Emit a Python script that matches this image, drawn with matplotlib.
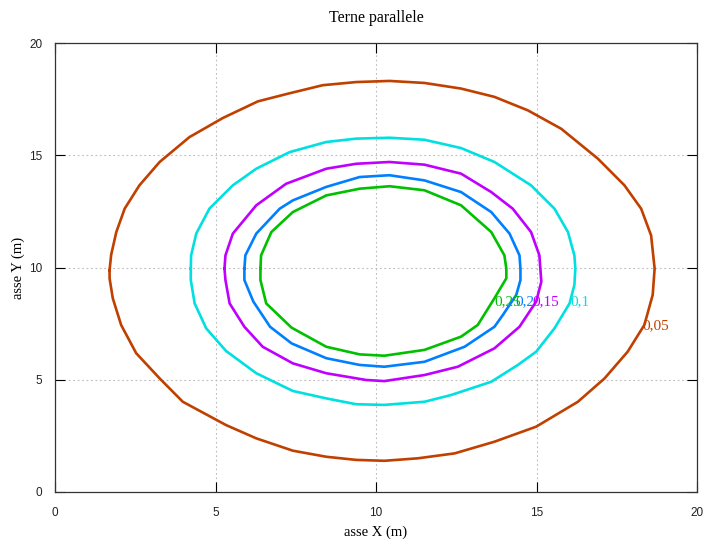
import matplotlib.pyplot as plt

# --- contour levels and their traced outlines (metres) ---
levels = ["0,05", "0,1", "0,15", "0,2", "0,25"]
colors = ["#c04000", "#00e0e0", "#c000ff", "#0080ff", "#00c000"]

x_005 = [1.70, 1.75, 1.91, 2.17, 2.63, 3.26, 4.19, 5.23, 6.32, 7.25, 8.34, 9.38, 10.42,
         11.51, 12.65, 13.69, 14.73, 15.77, 16.91, 17.74, 18.26, 18.57, 18.68,
         18.62, 18.36, 17.84, 17.12, 16.29, 14.99, 13.69, 12.45, 11.30, 10.26,
         9.38, 8.45, 7.41, 6.27, 5.33, 3.98, 3.26, 2.53, 2.06, 1.80, 1.70, 1.70]
y_005 = [9.88, 10.57, 11.58, 12.62, 13.66, 14.70, 15.81, 16.66, 17.40, 17.74, 18.12, 18.26, 18.31,
         18.22, 17.97, 17.60, 17.00, 16.18, 14.85, 13.66, 12.62, 11.43, 9.95,
         8.78, 7.44, 6.25, 5.06, 4.02, 2.91, 2.24, 1.72, 1.50, 1.39,
         1.43, 1.57, 1.84, 2.39, 2.98, 4.02, 5.06, 6.18, 7.44, 8.63, 9.52, 9.88]

x_01 = [4.23, 4.24, 4.40, 4.81, 5.54, 6.27, 7.31, 8.45, 9.38, 10.42,
        11.51, 12.65, 13.69, 14.83, 15.56, 15.98, 16.18, 16.21,
        16.18, 16.03, 15.56, 14.99, 14.42, 13.59, 12.34, 11.51, 10.26,
        9.38, 8.45, 7.41, 6.27, 5.33, 4.71, 4.35, 4.23, 4.23]
y_01 = [9.95, 10.54, 11.51, 12.62, 13.66, 14.40, 15.14, 15.59, 15.74, 15.78,
        15.69, 15.32, 14.70, 13.66, 12.62, 11.58, 10.54, 9.95,
        9.22, 8.40, 7.29, 6.25, 5.66, 4.91, 4.32, 4.02, 3.88,
        3.91, 4.17, 4.50, 5.29, 6.28, 7.29, 8.40, 9.44, 9.95]

x_015 = [5.28, 5.31, 5.54, 6.27, 7.20, 8.45, 9.38, 10.42,
         11.51, 12.65, 13.59, 14.26, 14.83, 15.09, 15.12,
         15.15, 14.99, 14.47, 13.69, 12.55, 11.51, 10.26,
         9.69, 8.45, 7.41, 6.47, 5.90, 5.44, 5.31, 5.28]
y_015 = [9.95, 10.54, 11.51, 12.77, 13.73, 14.40, 14.62, 14.70,
         14.58, 14.18, 13.36, 12.62, 11.58, 10.54, 9.95,
         9.37, 8.48, 7.36, 6.40, 5.58, 5.21, 4.94,
         4.99, 5.29, 5.73, 6.47, 7.36, 8.40, 9.44, 9.95]

x_02 = [5.90, 5.93, 6.27, 7.00, 7.41, 8.45, 9.49, 10.42,
        11.51, 12.65, 13.59, 14.16, 14.47, 14.50,
        14.50, 14.37, 13.95, 13.69, 12.76, 11.51, 10.26,
        9.49, 8.45, 7.37, 6.70, 6.18, 5.90, 5.90]
y_02 = [9.95, 10.54, 11.51, 12.62, 12.99, 13.59, 14.03, 14.11,
        13.88, 13.36, 12.47, 11.51, 10.54, 9.95,
        9.44, 8.78, 7.88, 7.36, 6.47, 5.80, 5.58,
        5.66, 5.96, 6.62, 7.36, 8.48, 9.44, 9.95]

x_025 = [6.40, 6.42, 6.74, 7.41, 8.45, 9.49, 10.42,
         11.51, 12.65, 13.59, 14.00, 14.06,
         14.06, 13.69, 13.17, 12.65, 11.51, 10.26,
         9.49, 8.45, 7.37, 6.58, 6.40, 6.40]
y_025 = [9.95, 10.54, 11.58, 12.47, 13.21, 13.51, 13.62,
         13.44, 12.77, 11.58, 10.54, 9.95,
         9.52, 8.63, 7.44, 6.92, 6.33, 6.07,
         6.13, 6.47, 7.32, 8.40, 9.44, 9.95]

# label anchor positions (left edge, vertical centre)
label_x = [18.30, 16.06, 14.88, 14.35, 13.69]
label_y = [7.39, 8.46, 8.46, 8.46, 8.46]

xs = [x_005, x_01, x_015, x_02, x_025]
ys = [y_005, y_01, y_015, y_02, y_025]

fig = plt.figure(figsize=(7.03, 5.39), dpi=100)
ax = fig.add_axes([55 / 703, 1 - 492 / 539, 642 / 703, 449 / 539])

for x, y, c in zip(xs, ys, colors):
    ax.plot(x, y, color=c, lw=1.9, solid_joinstyle="miter")

for lab, lx, ly, c in zip(levels, label_x, label_y, colors):
    ax.text(lx, ly, lab, color=c, fontsize=11, family="Liberation Serif",
            ha="left", va="center")

ax.set_xlim(0, 20)
ax.set_ylim(0, 20)
ax.set_xticks([0, 5, 10, 15, 20])
ax.set_yticks([0, 5, 10, 15, 20])
ax.grid(True, color="#bbbbbb", ls=(0, (1.5, 2.5)), lw=0.8)
ax.tick_params(direction="in", length=7, width=0.8, top=True, right=True,
               labelsize=8.5, labelcolor="#222222")
ax.tick_params(axis="x", pad=11)
ax.tick_params(axis="y", pad=9)
for lbl in ax.get_xticklabels() + ax.get_yticklabels():
    lbl.set_family("Liberation Sans")
for s in ax.spines.values():
    s.set_linewidth(0.9)
    s.set_color("#333333")

fig.text(376 / 703, 1 - 18 / 539, "Terne parallele", family="Liberation Serif",
         fontsize=11.5, ha="center", va="center")
fig.text(376 / 703, 1 - 532 / 539, "asse X (m)", family="Liberation Serif",
         fontsize=10.5, ha="center", va="center")
fig.text(18 / 703, 1 - 268 / 539, "asse Y (m)", family="Liberation Serif",
         fontsize=10.5, ha="center", va="center", rotation=90)

fig.savefig("out.png", dpi=100)
